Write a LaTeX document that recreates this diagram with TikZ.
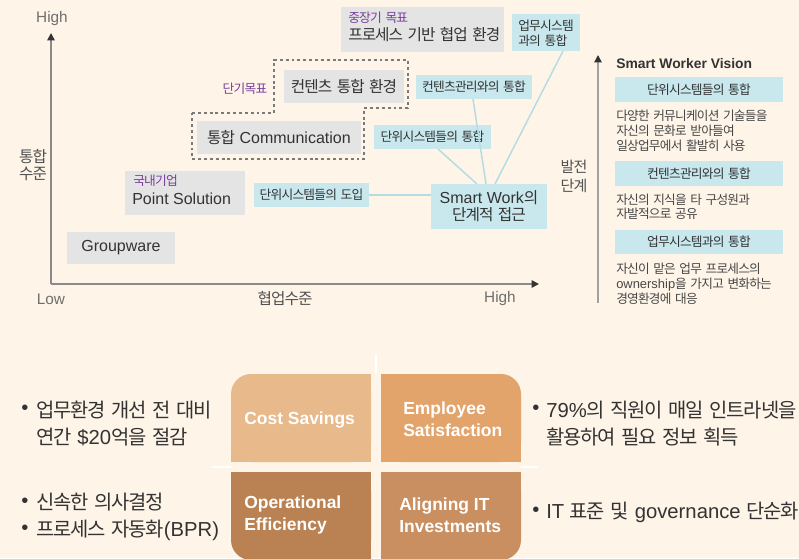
\documentclass[tikz,border=0pt]{standalone}
\usepackage{fontspec}
\setmainfont{Liberation Sans}
\newfontfamily\krfont[Scale=0.98,LetterSpace=-6]{Noto Sans CJK KR}
\usetikzlibrary{calc,arrows.meta}
% Hangul syllables -> Korean font automatically
\XeTeXinterchartokenstate=1
\chardef\HangulClass=7
\makeatletter
\count@="AC00
\loop\XeTeXcharclass\count@=\HangulClass\relax\ifnum\count@<"D7A3 \advance\count@\@ne\repeat
\makeatother
\XeTeXinterchartoks 0 7 = {\begingroup\krfont}
\XeTeXinterchartoks 1 7 = {\begingroup\krfont}
\XeTeXinterchartoks 2 7 = {\begingroup\krfont}
\XeTeXinterchartoks 3 7 = {\begingroup\krfont}
\XeTeXinterchartoks 4095 7 = {\begingroup\krfont}
\XeTeXinterchartoks 7 0 = {\endgroup}
\XeTeXinterchartoks 7 1 = {\endgroup}
\XeTeXinterchartoks 7 2 = {\endgroup}
\XeTeXinterchartoks 7 3 = {\endgroup}
\XeTeXinterchartoks 7 4095 = {\endgroup}

\definecolor{bg}{HTML}{FEF4E8}
\definecolor{graybox}{HTML}{E4E4E4}
\definecolor{cyanbox}{HTML}{C8E8EE}
\definecolor{cyanline}{HTML}{B5DCE2}
\definecolor{purp}{HTML}{7A3E9D}
\definecolor{txt}{HTML}{333333}
\definecolor{axisc}{HTML}{8A8A8A}
\definecolor{lowc}{HTML}{6E6E6E}
\definecolor{dashc}{HTML}{7A7A7A}
\definecolor{costc}{HTML}{E8B98A}
\definecolor{empc}{HTML}{E3A46C}
\definecolor{opc}{HTML}{BA8152}
\definecolor{alc}{HTML}{C98F60}

\tikzset{
  gbox/.style 2 args={fill=graybox, minimum width=#1*0.75pt, minimum height=#2*0.75pt, inner sep=0pt, outer sep=0pt, text=txt, font=\fontsize{12}{14}\selectfont},
  cbox/.style 2 args={fill=cyanbox, minimum width=#1*0.75pt, minimum height=#2*0.75pt, inner sep=0pt, outer sep=0pt, text=txt, font=\fontsize{9.75}{11.25}\selectfont},
  bigtxt/.style={inner sep=0pt, text=txt, font=\fontsize{12}{14}\selectfont},
  tagtxt/.style={inner sep=0pt, text=purp, font=\fontsize{9.75}{11}\selectfont},
  axl/.style={inner sep=0pt, text=lowc, font=\fontsize{11.5}{13}\selectfont},
  axk/.style={inner sep=0pt, text=txt!85, font=\fontsize{12}{12.75}\selectfont},
  conn/.style={draw=cyanline, line width=1.1pt},
  axisline/.style={draw=axisc, line width=1.2pt, -{Triangle[length=5.5pt,width=5.5pt,color=black!80]}},
  bodytxt/.style={inner sep=0pt, text=txt!90, align=left, font=\fontsize{9.7}{11.25}\selectfont},
  boxlab/.style={inner sep=0pt, text=white, align=left, font=\bfseries\fontsize{13.1}{16.5}\selectfont},
  bul/.style={inner sep=0pt, text=txt, align=left, font=\fontsize{15.2}{20.25}\selectfont},
  crossline/.style={draw=white, line width=1.3pt},
}

\begin{document}
\begin{tikzpicture}[x=0.75pt,y=-0.75pt]
\fill[bg] (0,0) rectangle (799,558);
\useasboundingbox (0,0) rectangle (799,558);

% ---------- axes ----------
\coordinate (O) at (51,284);
\coordinate (YT) at (51,33);
\coordinate (XT) at (539,284);
\draw[axisline] (O) -- (YT);
\draw[axisline] (O) -- (XT);
\node[axl] (yhigh) at (52,19) {High};
\node[axl] (xlow) at (51,299) {Low};
\node[axl] (xhigh) at (500,299) {High};
\node[axk, align=center] (ylab) at (33,165) {통합\\수준};
\node[axk] (xlab) at (285,299) {협업수준};

% ---------- dashed short-term outline ----------
\draw[dashc, line width=0.9pt, dash pattern=on 2.2pt off 2.2pt]
  (192,113) -- (274,113) -- (274,60) -- (408,60) -- (408,108) -- (364,108) -- (364,159) -- (192,159) -- cycle;
\node[tagtxt] (dangi) at (245,89) {단기목표};

% ---------- gray boxes ----------
\node[gbox={108}{32}] (gw) at (121,248) {Groupware};
\node[gbox={120}{44}] (ps) at (185,193) {};
\node[tagtxt, anchor=west] (pstag) at (133,181) {국내기업};
\node[bigtxt, anchor=west] (pstxt) at (132,199) {Point Solution};
\node[gbox={164}{33}] (comm) at (279,137.5) {통합 Communication};
\node[gbox={120}{33}] (cont) at (344,86.5) {컨텐츠 통합 환경};
\node[gbox={163}{45}] (mid) at (422.5,29.5) {};
\node[tagtxt, anchor=west] (midtag) at (348,18) {중장기 목표};
\node[bigtxt, anchor=west] (midtxt) at (348,35) {프로세스 기반 협업 환경};

% ---------- cyan boxes ----------
\node[cbox={68}{37}] (upmu) at (546,32.5) {};
\node[bigtxt, anchor=west, align=left, font=\fontsize{9.75}{11.25}\selectfont] (upmutxt) at (518,33) {업무시스템\\과의 통합};
\node[cbox={116}{24}] (cmgmt) at (474,87) {컨텐츠관리와의 통합};
\node[cbox={117}{24}] (unint) at (432.5,137) {단위시스템들의 통합};
\node[cbox={115}{24}] (unintro) at (311.5,195) {단위시스템들의 도입};
\node[cbox={116}{45}, align=center, font=\fontsize{12}{12.75}\selectfont] (smart) at (489,206.5) {Smart Work의\\단계적 접근};

% connectors
\draw[conn] (unintro.east) -- (unintro.east -| smart.west);
\draw[conn] ($(unint.south)+(5.5,0)$) -- ($(smart.north)+(-12,0)$);
\draw[conn] ($(cmgmt.south)+(-1,0)$) -- ($(smart.north)+(-3,0)$);
\draw[conn] ($(upmu.south)+(17,0)$) -- ($(smart.north)+(6,0)$);

% ---------- right panel ----------
\coordinate (vb) at (598,303);
\coordinate (vt) at (598,55);
\draw[axisline, draw=axisc!80] (vb) -- (vt);
\node[axk, align=center, font=\fontsize{11.5}{14.25}\selectfont] (dev) at (574,176) {발전\\단계};
\node[inner sep=0pt, anchor=west, text=txt, font=\bfseries\fontsize{10.4}{12}\selectfont] (vision) at (616,64) {Smart Worker Vision};
\node[cbox={168}{25}] (h1) at (699,89.5) {단위시스템들의 통합};
\node[bodytxt, anchor=west] (b1) at (616,131) {다양한 커뮤니케이션 기술들을\\자신의 문화로 받아들여\\일상업무에서 활발히 사용};
\node[cbox={168}{25}] (h2) at (699,173.5) {컨텐츠관리와의 통합};
\node[bodytxt, anchor=west, font=\fontsize{9.7}{10.5}\selectfont] (b2) at (616,207) {자신의 지식을 타 구성원과\\자발적으로 공유};
\node[cbox={168}{24}] (h3) at (699,242) {업무시스템과의 통합};
\node[bodytxt, anchor=west] (b3) at (616,284) {자신이 맡은 업무 프로세스의\\ownership을 가지고 변화하는\\경영환경에 대응};

% ---------- bottom quadrant ----------
\draw[crossline] (212,467) -- (231,467);
\draw[crossline] (521,467) -- (538,467);
\draw[crossline] (376,355) -- (376,374);
% Cost Savings (top-left rounded)
\fill[costc, rounded corners=15pt] (231,374) rectangle (371,462);
\fill[costc] (251,374) rectangle (371,462);
\fill[costc] (231,394) rectangle (371,462);
% Employee Satisfaction (top-right rounded)
\fill[empc, rounded corners=15pt] (381,374) rectangle (521,462);
\fill[empc] (381,374) rectangle (501,462);
\fill[empc] (381,394) rectangle (521,462);
% Operational Efficiency (bottom-left rounded)
\fill[opc, rounded corners=15pt] (231,472) rectangle (371,560);
\fill[opc] (251,472) rectangle (371,560);
\fill[opc] (231,472) rectangle (371,540);
% Aligning IT (bottom-right rounded)
\fill[alc, rounded corners=15pt] (381,472) rectangle (521,560);
\fill[alc] (381,472) rectangle (501,560);
\fill[alc] (381,472) rectangle (521,540);

\node[boxlab, anchor=west] (cs) at (244,420) {Cost Savings};
\node[boxlab, anchor=west] (es) at (403,419) {Employee\\Satisfaction};
\node[boxlab, anchor=west] (oe) at (244,515) {Operational\\Efficiency};
\node[boxlab, anchor=west] (ai) at (399,515) {Aligning IT\\Investments};

% bullets left
\node[bul] (d1) at (25,410) {•};
\node[bul, anchor=west] (t1) at (36,423.5) {업무환경 개선 전 대비\\연간 \$20억을 절감};
\node[bul] (d2) at (25,503) {•};
\node[bul] (d3) at (25,530) {•};
\node[bul, anchor=west] (t2) at (36,516.5) {신속한 의사결정\\프로세스 자동화(BPR)};
% bullets right
\node[bul] (d4) at (536,410) {•};
\node[bul, anchor=west] (t4) at (546,423.5) {79\%의 직원이 매일 인트라넷을\\활용하여 필요 정보 획득};
\node[bul] (d5) at (536,512) {•};
\node[bul, anchor=west] (t5) at (546,512) {IT 표준 및 governance 단순화};
\end{tikzpicture}
\end{document}
